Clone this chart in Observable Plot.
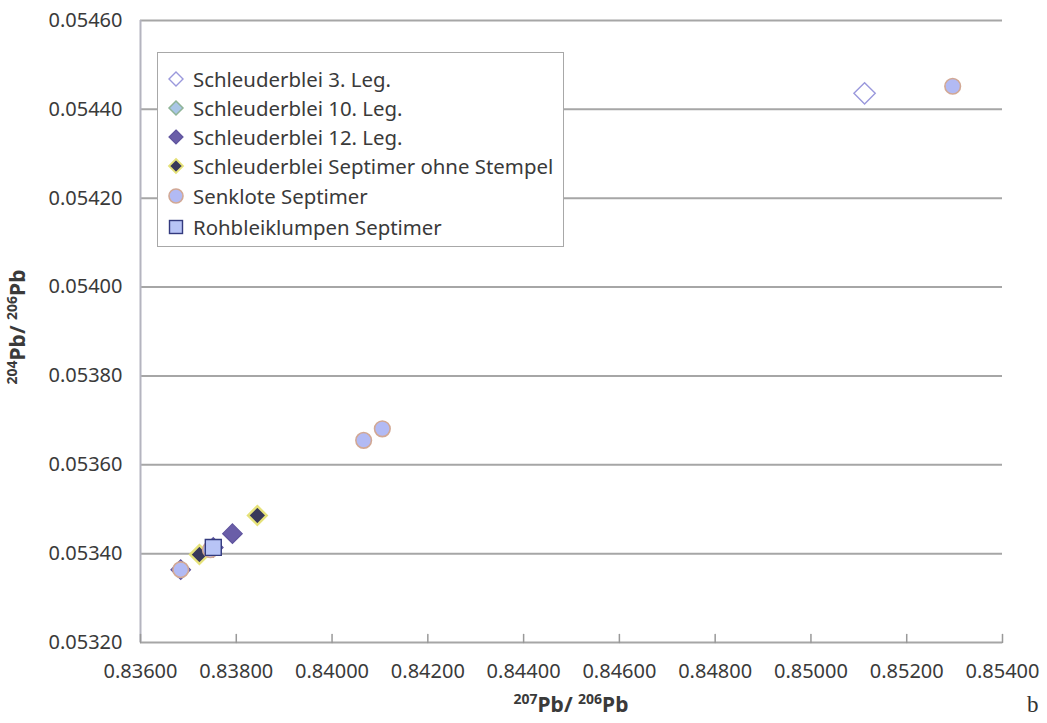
<!DOCTYPE html>
<html>
<head>
<meta charset="utf-8">
<script src="https://cdn.jsdelivr.net/npm/d3@7"></script>
<script src="https://cdn.jsdelivr.net/npm/@observablehq/plot@0.6"></script>
<style>
  html, body { margin: 0; padding: 0; background: #fff; }
  #wrap { position: relative; width: 1047px; height: 723px; font-family: "Noto Sans", "Open Sans", sans-serif; color: #3a3a3a; overflow: hidden; }
  #chart { position: absolute; left: 0; top: 0; }
  #legend { position: absolute; left: 157px; top: 52px; width: 407px; height: 195px; background: #fff; border: 1px solid #a8a8a8; box-sizing: border-box; }
  .row { position: absolute; left: 0; height: 28px; display: flex; align-items: center; font-size: 20.4px; white-space: nowrap; }
  .row svg { margin-left: 9px; margin-right: 8px; }
  #xtitle { position: absolute; left: 0; width: 1142px; top: 690px; text-align: center; font-weight: bold; font-size: 21px; }
  #ytitle { position: absolute; left: -133px; top: 313px; width: 300px; height: 28px; line-height: 28px; text-align: center; font-weight: bold; font-size: 21px; transform: rotate(-90deg); }
  sup { font-size: 14px; vertical-align: 8px; line-height: 0; }
  #tag { position: absolute; left: 1027px; top: 692px; font-family: "Liberation Serif", "DejaVu Serif", serif; font-size: 23px; color: #333; }
</style>
</head>
<body>
<div id="wrap">
  <div id="chart"></div>
  <div id="legend"></div>
  <div id="xtitle"><sup>207</sup>Pb/ <sup>206</sup>Pb</div>
  <div id="ytitle"><sup>204</sup>Pb/ <sup>206</sup>Pb</div>
  <div id="tag">b</div>
</div>
<script>
// ---- data ----
const seriesNames = [
  "Schleuderblei 3. Leg.",
  "Schleuderblei 10. Leg.",
  "Schleuderblei 12. Leg.",
  "Schleuderblei Septimer ohne Stempel",
  "Senklote Septimer",
  "Rohbleiklumpen Septimer"
];
const leg3X = [0.85112];
const leg3Y = [0.054436];
const leg10X = [];
const leg10Y = [];
const leg12X = [0.83684, 0.83792, 0.83752];
const leg12Y = [0.053364, 0.053445, 0.053414];
const stempelX = [0.83723, 0.83844];
const stempelY = [0.053398, 0.053486];
const senkloteX = [0.83684, 0.84066, 0.84105, 0.85296, 0.83746];
const senkloteY = [0.053364, 0.053655, 0.053681, 0.054452, 0.053409];
const rohbleiX = [0.83752];
const rohbleiY = [0.053414];

const xTicks = [0.836, 0.838, 0.840, 0.842, 0.844, 0.846, 0.848, 0.850, 0.852, 0.854];
const yTicks = [0.0532, 0.0534, 0.0536, 0.0538, 0.0540, 0.0542, 0.0544, 0.0546];

// ---- styles ----
const styles = [
  {symbol: "diamond2", r: 9.6, fill: "#ffffff", stroke: "#9a98dc", strokeWidth: 1.4},
  {symbol: "diamond2", r: 8.0, fill: "#a9c6e6", stroke: "#8fb497", strokeWidth: 1.5},
  {symbol: "diamond2", r: 8.8, fill: "#6a5ea8", stroke: "#5f549e", strokeWidth: 1.2},
  {symbol: "diamond2", r: 8.4, fill: "#38385a", stroke: "#e6e27a", strokeWidth: 2.4},
  {symbol: "circle",   r: 7.8, fill: "#b2baf4", stroke: "#d2a894", strokeWidth: 1.6},
  {symbol: "square",   r: 9.0, fill: "#b8c4f6", stroke: "#333a7e", strokeWidth: 1.4}
];
const xs = [leg3X, leg10X, leg12X, stempelX, senkloteX, rohbleiX];
const ys = [leg3Y, leg10Y, leg12Y, stempelY, senkloteY, rohbleiY];

const fmt = d3.format(".5f");
const gridColor = "#a6a6a6";

const dotMarks = seriesNames.map((name, i) => {
  const rows = xs[i].map((x, j) => ({series: name, x, y: ys[i][j]}));
  return Plot.dot(rows, {x: "x", y: "y", ...styles[i]});
});

const tickShape = {draw(context, l) { context.moveTo(0, 0); context.lineTo(0, -l); }};

const chart = Plot.plot({
  width: 1047,
  height: 723,
  marginLeft: 140,
  marginRight: 45,
  marginTop: 20,
  marginBottom: 81,
  style: {fontFamily: "'Noto Sans', 'Open Sans', sans-serif", fontSize: "20px", color: "#3a3a3a", background: "#fff"},
  x: {domain: [0.836, 0.854]},
  y: {domain: [0.0532, 0.0546]},
  marks: [
    Plot.ruleY(yTicks, {stroke: gridColor, strokeWidth: 2}),
    Plot.ruleX([0.836], {stroke: "#b4b4bf", strokeWidth: 2}),
    Plot.vector(xTicks, {x: d => d, y: 0.0532, length: 8, rotate: 0, anchor: "start", shape: tickShape, stroke: "#999999", strokeWidth: 1.5}),
    ...dotMarks,
    Plot.axisX({ticks: xTicks, tickSize: 0, tickPadding: 21, tickFormat: fmt, fontSize: 20, label: null}),
    Plot.axisY({ticks: yTicks, tickSize: 0, tickPadding: 18, tickFormat: fmt, fontSize: 20, label: null})
  ]
});
document.getElementById("chart").appendChild(chart);

// ---- legend ----
const legend = document.getElementById("legend");
const rowTops = [12, 41, 70, 99, 129, 160];
seriesNames.forEach((name, i) => {
  const s = styles[i];
  const row = document.createElement("div");
  row.className = "row";
  row.style.top = rowTops[i] + "px";
  const svgNS = "http://www.w3.org/2000/svg";
  const svg = document.createElementNS(svgNS, "svg");
  svg.setAttribute("width", 18);
  svg.setAttribute("height", 18);
  let shape;
  if (s.symbol === "circle") {
    shape = document.createElementNS(svgNS, "circle");
    shape.setAttribute("cx", 9); shape.setAttribute("cy", 9); shape.setAttribute("r", 7);
  } else if (s.symbol === "square") {
    shape = document.createElementNS(svgNS, "rect");
    shape.setAttribute("x", 2.5); shape.setAttribute("y", 2.5); shape.setAttribute("width", 13); shape.setAttribute("height", 13);
  } else {
    shape = document.createElementNS(svgNS, "path");
    shape.setAttribute("d", "M9,2L16,9L9,16L2,9Z");
  }
  shape.setAttribute("fill", s.fill);
  shape.setAttribute("stroke", s.stroke);
  shape.setAttribute("stroke-width", Math.min(s.strokeWidth, 1.8));
  svg.appendChild(shape);
  row.appendChild(svg);
  const span = document.createElement("span");
  span.textContent = name;
  row.appendChild(span);
  legend.appendChild(row);
});
</script>
</body>
</html>
